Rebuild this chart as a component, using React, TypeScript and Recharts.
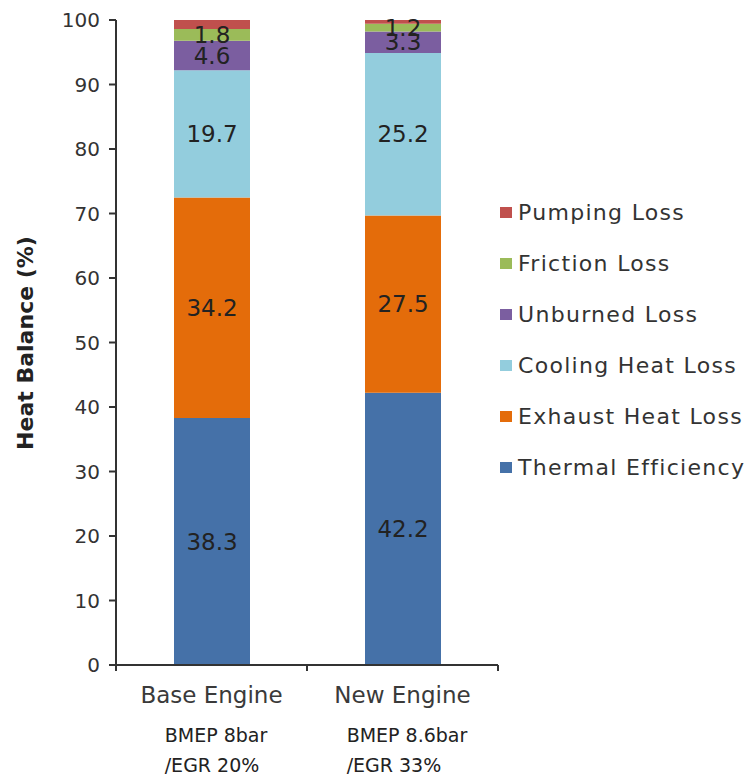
import { BarChart, Bar, XAxis, YAxis, LabelList, Label } from 'recharts';

const engines = ['Base Engine', 'New Engine'];
const conditions = [
  ['BMEP 8bar', '/EGR 20%'],
  ['BMEP 8.6bar', '/EGR 33%'],
];
const thermalEfficiency = [38.3, 42.2];
const exhaustHeatLoss = [34.2, 27.5];
const coolingHeatLoss = [19.7, 25.2];
const unburnedLoss = [4.6, 3.3];
const frictionLoss = [1.8, 1.2];
const pumpingLoss = [1.4, 0.6];
const yTicks = [0, 10, 20, 30, 40, 50, 60, 70, 80, 90, 100];

const series = [
  { key: 'thermal', name: 'Thermal Efficiency', values: thermalEfficiency, color: '#4571a8', label: true },
  { key: 'exhaust', name: 'Exhaust Heat Loss', values: exhaustHeatLoss, color: '#e46c0a', label: true },
  { key: 'cooling', name: 'Cooling Heat Loss', values: coolingHeatLoss, color: '#93cddd', label: true },
  { key: 'unburned', name: 'Unburned Loss', values: unburnedLoss, color: '#7b5ea0', label: true },
  { key: 'friction', name: 'Friction Loss', values: frictionLoss, color: '#9bbb59', label: true },
  { key: 'pumping', name: 'Pumping Loss', values: pumpingLoss, color: '#c0504d', label: false },
];

const data = engines.map((name, i) => {
  const row: any = { name };
  series.forEach((s) => (row[s.key] = s.values[i]));
  return row;
});

const FONT = '"DejaVu Sans", Verdana, sans-serif';

const EngineTick = ({ x, y, payload, index }: any) => {
  const half = payload && payload.offset ? payload.offset : 95.5;
  const cond = conditions[index] || [];
  return (
    <g>
      <line x1={x - half} y1={y - 8} x2={x - half} y2={y - 2} stroke="#333" strokeWidth={2} />
      <line x1={x + half} y1={y - 8} x2={x + half} y2={y - 2} stroke="#333" strokeWidth={2} />
      <text x={x} y={y + 30} textAnchor="middle" fontSize={23} fill="#3a3a3a" fontFamily={FONT}>
        {payload.value}
      </text>
      <foreignObject x={x - 100} y={y + 47} width={200} height={70}>
        <div style={{ display: 'flex', justifyContent: 'center', fontFamily: FONT, fontSize: 19, color: '#222', lineHeight: '30px' }}>
          <div style={{ textAlign: 'left', paddingLeft: 9, whiteSpace: 'nowrap' }}>
            <div>{cond[0]}</div>
            <div>{cond[1]}</div>
          </div>
        </div>
      </foreignObject>
    </g>
  );
};

const LegendList = () => (
  <div style={{ position: 'absolute', left: 500, top: 187, fontFamily: FONT, fontSize: 22, color: '#333', letterSpacing: 1.3 }}>
    {[...series].reverse().map((s) => (
      <div key={s.key} style={{ display: 'flex', alignItems: 'center', height: 51, whiteSpace: 'nowrap' }}>
        <span style={{ width: 12, height: 11, background: s.color, marginRight: 6, display: 'inline-block' }} />
        <span>{s.name}</span>
      </div>
    ))}
  </div>
);

export default function App() {
  return (
    <div style={{ position: 'absolute', left: 0, top: 0, width: 749, height: 776, background: '#fff' }}>
      <BarChart
        width={749}
        height={776}
        data={data}
        margin={{ top: 20, right: 251, left: 0, bottom: 0 }}
        barSize={76}
      >
        <XAxis
          dataKey="name"
          height={111}
          tick={<EngineTick />}
          tickLine={false}
          axisLine={{ stroke: '#333', strokeWidth: 2 }}
          interval={0}
        />
        <YAxis
          width={116}
          domain={[0, 100]}
          ticks={yTicks}
          tickSize={7}
          tickMargin={9}
          tick={{ fontSize: 20, fill: '#333', fontFamily: FONT }}
          tickLine={{ stroke: '#333', strokeWidth: 2 }}
          axisLine={{ stroke: '#333', strokeWidth: 2 }}
        >
          <Label
            content={() => (
              <text
                transform="translate(25,343) rotate(-90)"
                textAnchor="middle"
                dominantBaseline="central"
                fontSize={22}
                fontWeight="bold"
                fill="#222"
                fontFamily={FONT}
              >
                Heat Balance (%)
              </text>
            )}
          />
        </YAxis>
        {series.map((s) => (
          <Bar key={s.key} dataKey={s.key} name={s.name} stackId="a" fill={s.color} isAnimationActive={false}>
            {s.label && (
              <LabelList
                dataKey={s.key}
                position="center"
                fontSize={23}
                fill="#222"
                fontFamily={FONT}
              />
            )}
          </Bar>
        ))}
      </BarChart>
      <LegendList />
    </div>
  );
}
